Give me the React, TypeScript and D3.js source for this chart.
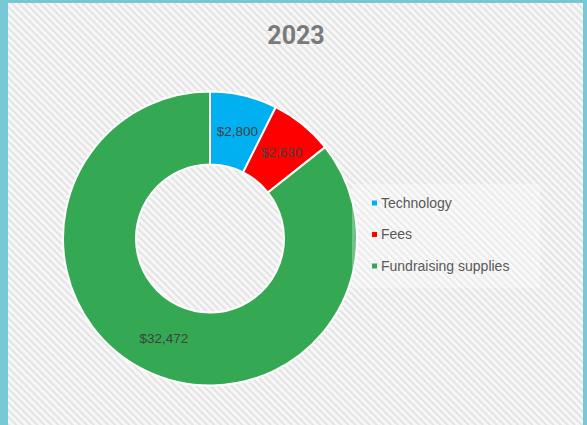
import { useMemo } from "react";
import { arc, pie, PieArcDatum } from "d3";

const categories = ["Technology", "Fees", "Fundraising supplies"];
const values = [2800, 2630, 32472];
const valueLabels = ["$2,800", "$2,630", "$32,472"];
const colors = ["#00B0F0", "#FF0000", "#34A853"];
const title = "2023";

interface Slice {
    label: string;
    value: number;
    text: string;
    color: string;
}

const W = 587;
const H = 425;

export default function App() {
    const data: Slice[] = categories.map((label, i) => ({
        label,
        value: values[i],
        text: valueLabels[i],
        color: colors[i],
    }));

    const cx = 210;
    const cy = 238.5;
    const outer = 147;
    const inner = 74;

    const arcs = useMemo(
        () =>
            pie<Slice>()
                .value((d) => d.value)
                .sort(null)(data),
        []
    );
    const arcGen = arc<PieArcDatum<Slice>>()
        .innerRadius(inner)
        .outerRadius(outer);

    const legend = { x: 352, y: 184, w: 188, h: 104 };

    return (
        <svg
            width={W}
            height={H}
            style={{ position: "fixed", left: 0, top: 0, display: "block" }}
            fontFamily="'Liberation Sans', Arial, sans-serif"
        >
            <defs>
                <pattern
                    id="stripes"
                    width={5}
                    height={5}
                    patternUnits="userSpaceOnUse"
                    patternTransform="rotate(-45)"
                >
                    <rect width={5} height={5} fill="#f7f7f7" />
                    <rect width={1.8} height={5} fill="#e2e2e2" />
                </pattern>
            </defs>
            <rect width={W} height={H} fill="#76C8D5" />
            <rect x={8} y={3} width={575} height={H - 3} fill="url(#stripes)" />
            <text
                x={296}
                y={44}
                textAnchor="middle"
                fontSize={25}
                fontWeight="bold"
                fill="#7a7a7a"
                fontFamily="Roboto, 'Liberation Sans', sans-serif"
            >
                {title}
            </text>
            <g transform={`translate(${cx}, ${cy})`}>
                {arcs.map((a) => (
                    <path
                        key={a.data.label}
                        d={arcGen(a) ?? ""}
                        fill={a.data.color}
                        stroke="#ffffff"
                        strokeWidth={2}
                    />
                ))}
                {arcs.map((a) => {
                    const [x, y] = arcGen.centroid(a);
                    return (
                        <text
                            key={`lbl-${a.data.label}`}
                            x={x + 2}
                            y={y}
                            dy="0.35em"
                            textAnchor="middle"
                            fontSize={13.5}
                            fill="#404040"
                        >
                            {a.data.text}
                        </text>
                    );
                })}
            </g>
            <rect
                x={legend.x}
                y={legend.y}
                width={legend.w}
                height={legend.h}
                fill="#ffffff"
                fillOpacity={0.3}
            />
            {data.map((d, i) => (
                <g key={`leg-${d.label}`} transform={`translate(372, ${203 + i * 31.5})`}>
                    <rect x={0} y={-2.5} width={5} height={5} fill={d.color} />
                    <text x={9} y={0} dy="0.35em" fontSize={14} fill="#595959">
                        {d.label}
                    </text>
                </g>
            ))}
        </svg>
    );
}
